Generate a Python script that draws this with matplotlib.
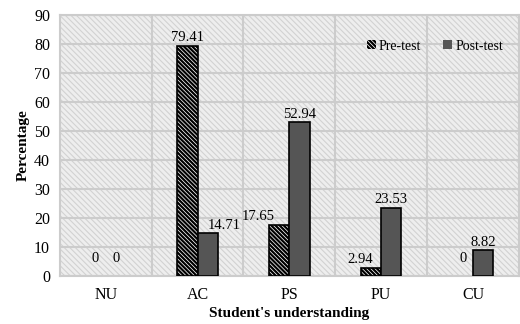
import numpy as np
import matplotlib.pyplot as plt
from matplotlib.patches import Rectangle

categories = ['NU', 'AC', 'PS', 'PU', 'CU']
pre_test = [0, 79.41, 17.65, 2.94, 0]
post_test = [0, 14.71, 52.94, 23.53, 8.82]
pre_labels = ['0', '79.41', '17.65', '2.94', '0']
post_labels = ['0', '14.71', '52.94', '23.53', '8.82']

plt.rcParams['font.family'] = ['Liberation Serif', 'DejaVu Serif']

fig = plt.figure(figsize=(5.2, 3.24), dpi=100)
ax = fig.add_axes([0.115, 0.148, 0.883, 0.806])

# hatched grey background
plt.rcParams['hatch.linewidth'] = 0.8
ax.set_facecolor('#eeeeee')
ax.add_patch(Rectangle((0, 0), 1, 1, transform=ax.transAxes, facecolor='none',
                       edgecolor='#d2d2d2', hatch='\\' * 6, linewidth=0, zorder=0))

x = np.arange(len(categories))
w = 0.22
plt.rcParams['hatch.color'] = 'black'
plt.rcParams['hatch.linewidth'] = 1.6
pre_lw = [1.2 if v > 0 else 0 for v in pre_test]
post_lw = [1.2 if v > 0 else 0 for v in post_test]
b1 = ax.bar(x - w / 2, pre_test, w, color='white', edgecolor='black', hatch='\\' * 8,
            linewidth=pre_lw, label='Pre-test', zorder=3)
b2 = ax.bar(x + w / 2, post_test, w, color='#555555', edgecolor='black',
            linewidth=post_lw, label='Post-test', zorder=3)

# data labels (a few shifted like in the original)
pre_dx = [0, 0, -15, -8, 0]
post_dx = [0, 12, 0, 0, 0]
for i in range(len(categories)):
    ax.annotate(pre_labels[i], (x[i] - w / 2, pre_test[i]), xytext=(pre_dx[i], 1 if pre_test[i] > 0 else 8),
                textcoords='offset points', ha='center', va='bottom', fontsize=10.5)
    ax.annotate(post_labels[i], (x[i] + w / 2, post_test[i]), xytext=(post_dx[i], 1 if post_test[i] > 0 else 8),
                textcoords='offset points', ha='center', va='bottom', fontsize=10.5)

ax.set_xlim(-0.5, 4.5)
ax.set_ylim(0, 90)
ax.set_yticks(range(0, 91, 10))
ax.set_xticks(x)
ax.set_xticklabels(categories)
ax.set_xticks(np.arange(0.5, 4.5, 1), minor=True)
ax.tick_params(axis='both', which='both', length=0, labelsize=11.5, pad=7)
ax.tick_params(axis='x', pad=8)
ax.grid(True, axis='y', color='#cccccc', linewidth=1.5, zorder=1)
ax.grid(True, axis='x', which='minor', color='#cccccc', linewidth=1.5, zorder=1)
for s in ax.spines.values():
    s.set_color('#cccccc')
    s.set_linewidth(1.5)

ax.set_xlabel("Student's understanding", fontweight='bold', fontsize=11, labelpad=3)
ax.set_ylabel('Percentage', fontweight='bold', fontsize=11, labelpad=3)

plt.rcParams['hatch.linewidth'] = 1.6
ax.legend(loc='center right', bbox_to_anchor=(0.992, 0.88), ncol=2, frameon=False,
          fontsize=10, handlelength=0.65, handleheight=0.65, handletextpad=0.2,
          columnspacing=1.6)

fig.savefig('out.png', dpi=100)
